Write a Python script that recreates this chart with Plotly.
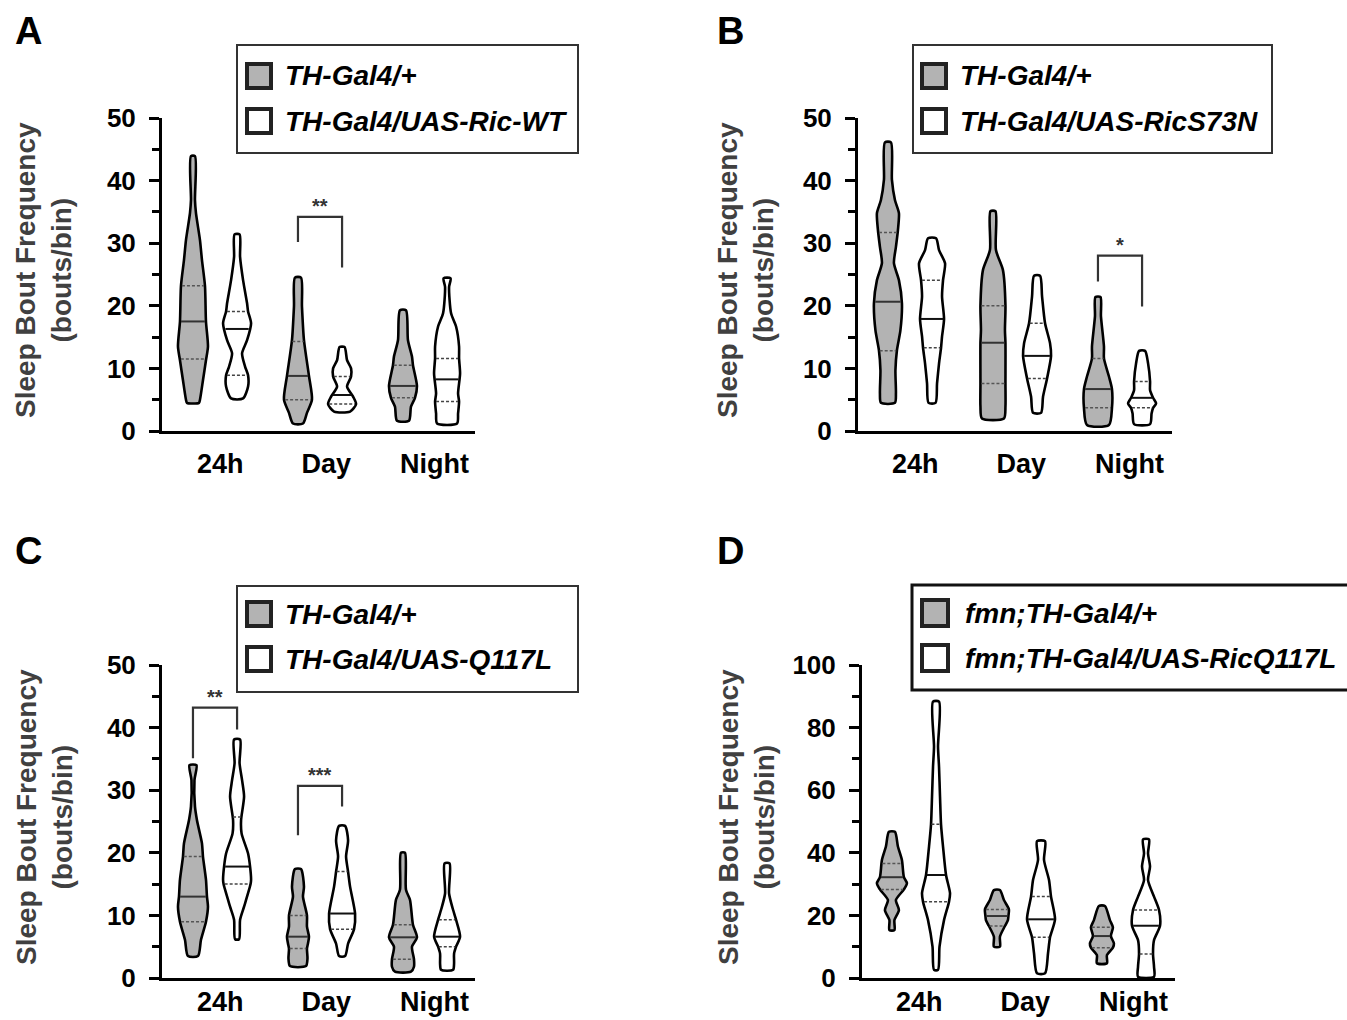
import numpy as np
import plotly.graph_objects as go

W, H = 1347, 1020
GROUPS = ["24h", "Day", "Night"]

# ---------------- data: violin density profiles (y level, relative width) ----------------
# Panel A
A_24g_y = [4.5, 5.0, 8.1, 11.3, 13.5, 17.5, 23.2, 27.3, 30.5, 34.8, 36.9, 43.9]
A_24g_d = [6, 7, 10, 13, 15, 13, 12, 9, 7, 3, 2, 2]
A_24w_y = [5.2, 7.1, 8.9, 10.3, 12.4, 14.5, 17.2, 19.1, 20.4, 24.1, 27.8, 31.4]
A_24w_d = [6, 11, 11, 8, 5, 10, 14, 11, 10, 6, 3, 2.5]
A_dg_y = [1.2, 2.9, 5.0, 8.8, 14.5, 19.9, 24.5]
A_dg_d = [5, 9, 14, 11, 6, 4, 3]
A_dw_y = [3.1, 4.3, 5.5, 7.1, 8.7, 10.0, 11.3, 13.4]
A_dw_d = [8, 14, 11, 5, 9, 9, 5, 2.5]
A_ng_y = [1.65, 3.9, 5.3, 7.2, 10.5, 11.9, 14.5, 19.3]
A_ng_d = [6, 8, 12, 14, 10, 9, 5, 3]
A_nw_y = [1.2, 2.8, 4.7, 6.0, 9.2, 11.6, 13.5, 16.7, 18.8, 23.0, 24.4]
A_nw_d = [10, 11, 12, 11, 13, 12, 12, 9, 4, 2, 3.5]
A_q1 = [11.5, 8.9, 5.0, 4.3, 5.3, 4.7]
A_med = [17.5, 16.3, 8.8, 5.75, 7.2, 8.25]
A_q3 = [23.2, 19.1, 14.3, 8.7, 10.5, 11.6]

# Panel B
B_24g_y = [4.5, 6.0, 9.7, 12.9, 16.1, 20.4, 24.1, 26.8, 29.4, 32.1, 34.8, 36.9, 40.1, 46.1]
B_24g_d = [7, 8, 7.5, 9, 12.5, 14, 11, 6, 8, 10, 11, 7, 4, 3]
B_24w_y = [4.5, 7.6, 10.8, 13.3, 15.1, 17.9, 21.5, 24.1, 26.8, 28.9, 30.8]
B_24w_d = [3.5, 5, 7, 9, 10, 12, 10, 11, 13, 7, 4]
B_dg_y = [2.0, 3.9, 7.6, 14.1, 16.1, 20.0, 25.7, 28.9, 35.1]
B_dg_d = [11, 12.5, 12.5, 12.5, 12, 12.5, 10, 3, 2.5]
B_dw_y = [2.9, 5.5, 8.4, 12.0, 14.0, 17.2, 21.5, 24.8]
B_dw_d = [4, 6, 10, 14, 13, 8, 5, 3]
B_ng_y = [0.96, 3.7, 6.7, 8.7, 11.6, 13.5, 18.3, 21.4]
B_ng_d = [11, 14, 14, 11, 6, 6, 3, 2.5]
B_nw_y = [1.1, 2.8, 3.7, 4.4, 5.3, 6.5, 7.9, 10.8, 12.8]
B_nw_d = [8, 9.5, 11, 14, 11, 8, 8, 6, 3]
B_q1 = [12.8, 13.3, 7.6, 8.4, 3.7, 3.7]
B_med = [20.65, 17.9, 14.1, 12.0, 6.7, 5.3]
B_q3 = [31.7, 24.1, 20.0, 17.2, 11.6, 7.9]

# Panel C
C_24g_y = [3.5, 6.1, 9.0, 11.4, 13.0, 15.7, 19.4, 21.5, 25.2, 27.4, 31.6, 34.0]
C_24g_d = [5, 8, 13, 15, 14, 13, 10, 9, 4, 2, 1.5, 3.5]
C_24w_y = [6.2, 9.3, 11.4, 15.0, 15.7, 17.8, 19.9, 23.1, 25.2, 29.0, 31.6, 34.3, 38.1]
C_24w_d = [2, 3, 7, 13.5, 14, 13, 11, 4.5, 4, 7, 5, 2.5, 3]
C_dg_y = [1.9, 3.1, 4.7, 5.5, 6.6, 8.2, 10.0, 13.0, 14.6, 17.4]
C_dg_d = [8, 9.5, 9, 10, 11, 9, 9, 5, 6, 3]
C_dw_y = [3.5, 5.5, 7.8, 10.3, 14.6, 17.0, 19.4, 22.0, 24.3]
C_dw_d = [3, 6, 12, 13, 8, 6, 4, 6, 3]
C_ng_y = [1.0, 1.8, 3.0, 5.0, 6.5, 8.5, 12.5, 14.1, 20.0]
C_ng_d = [8, 11, 11, 9, 14, 10, 7, 3, 2]
C_nw_y = [1.3, 2.3, 3.9, 5.0, 6.6, 9.3, 10.9, 13.5, 18.3]
C_nw_d = [6, 7, 7, 9, 13, 9, 6, 2, 2.5]
C_q1 = [9.0, 15.0, 4.7, 7.8, 3.0, 5.0]
C_med = [13.0, 17.8, 6.6, 10.3, 6.5, 6.6]
C_q3 = [19.4, 25.7, 10.0, 17.0, 8.5, 9.3]

# Panel D
D_24g_y = [15.3, 18.5, 21.7, 24.9, 28.3, 30.3, 32.2, 37.7, 42.0, 46.7]
D_24g_d = [2.5, 2.5, 7, 4, 12, 15, 12, 10, 6, 3]
D_24w_y = [2.6, 10.0, 18.5, 24.4, 27.1, 32.9, 42.0, 49.1, 57.9, 67.5, 73.9, 88.3]
D_24w_d = [2, 3.5, 8, 13, 14, 10, 7, 5, 4, 3, 2, 3]
D_dg_y = [10.0, 13.2, 16.6, 18.5, 19.8, 21.9, 24.9, 28.1]
D_dg_d = [3, 3, 8, 11, 11.5, 12, 7, 3]
D_dw_y = [1.5, 7.9, 13.0, 18.75, 26.0, 31.3, 37.7, 43.7]
D_dw_d = [4, 7, 9, 14, 10, 8, 3, 4]
D_ng_y = [4.7, 7.3, 9.7, 11.1, 13.4, 16.2, 18.5, 23.0]
D_ng_d = [5, 5, 11, 12, 9, 11, 8, 3]
D_nw_y = [0.4, 3.6, 7.7, 12.1, 16.7, 21.7, 26.0, 31.3, 35.6, 39.8, 44.3]
D_nw_d = [8, 8, 7, 8, 14, 13, 8, 2, 4, 2, 3]
D_q1 = [28.3, 24.4, 16.6, 13.0, 9.7, 7.7]
D_med = [32.2, 32.9, 19.8, 18.75, 13.4, 16.7]
D_q3 = [36.6, 49.1, 21.9, 26.0, 16.2, 21.7]

# significance brackets: (group, left-foot y, top y, right-foot y, label)
A_sig = [(1, 30.2, 34.2, 26.1, "**")]
B_sig = [(2, 23.9, 28.0, 19.9, "*")]
C_sig = [(0, 35.1, 43.2, 39.7, "**"), (1, 22.8, 30.7, 27.4, "***")]
D_sig = []

A_legend = ["TH-Gal4/+", "TH-Gal4/UAS-Ric-WT"]
B_legend = ["TH-Gal4/+", "TH-Gal4/UAS-RicS73N"]
C_legend = ["TH-Gal4/+", "TH-Gal4/UAS-Q117L"]
D_legend = ["fmn;TH-Gal4/+", "fmn;TH-Gal4/UAS-RicQ117L"]

# ---------------- styling / layout ----------------
GRAY = "#b3b3b3"
FONT = "Liberation Sans, Arial, sans-serif"
WSCALE = 1 / 105.0   # density -> x units
OFF = 0.21

def fx(p):
    return p / W

def fy(p):
    return 1 - p / H

panels = [
    dict(letter="A", xa="x", ya="y", xdom=(162, 475), ydom=(118, 431), xr=(-0.505, 2.476), yr=(0, 50),
         dt=10, mdt=5, xso=7,
         prof=[(A_24g_y, A_24g_d), (A_24w_y, A_24w_d), (A_dg_y, A_dg_d), (A_dw_y, A_dw_d), (A_ng_y, A_ng_d), (A_nw_y, A_nw_d)],
         q1=A_q1, med=A_med, q3=A_q3, sig=A_sig, leg=A_legend,
         letpos=(28, 31), title_pos=(44, 270),
         lbox=(237, 578, 45, 153, 2, "#333"), sq=(247, 24), txt_x=283, rows=(76, 121)),
    dict(letter="B", xa="x2", ya="y2", xdom=(858, 1172), ydom=(118, 431), xr=(-0.495, 2.495), yr=(0, 50),
         dt=10, mdt=5, xso=7,
         prof=[(B_24g_y, B_24g_d), (B_24w_y, B_24w_d), (B_dg_y, B_dg_d), (B_dw_y, B_dw_d), (B_ng_y, B_ng_d), (B_nw_y, B_nw_d)],
         q1=B_q1, med=B_med, q3=B_q3, sig=B_sig, leg=B_legend,
         letpos=(730, 31), title_pos=(746, 270),
         lbox=(913, 1272, 45, 153, 2, "#333"), sq=(922, 24), txt_x=958, rows=(76, 121)),
    dict(letter="C", xa="x3", ya="y3", xdom=(162, 475), ydom=(665, 978), xr=(-0.505, 2.476), yr=(0, 50),
         dt=10, mdt=5, xso=-2,
         prof=[(C_24g_y, C_24g_d), (C_24w_y, C_24w_d), (C_dg_y, C_dg_d), (C_dw_y, C_dw_d), (C_ng_y, C_ng_d), (C_nw_y, C_nw_d)],
         q1=C_q1, med=C_med, q3=C_q3, sig=C_sig, leg=C_legend,
         letpos=(28, 551), title_pos=(44, 817),
         lbox=(237, 578, 586, 692, 2, "#333"), sq=(247, 24), txt_x=283, rows=(614, 659)),
    dict(letter="D", xa="x4", ya="y4", xdom=(862, 1175), ydom=(665, 978), xr=(-0.495, 2.486), yr=(0, 100),
         dt=20, mdt=10, xso=-2,
         prof=[(D_24g_y, D_24g_d), (D_24w_y, D_24w_d), (D_dg_y, D_dg_d), (D_dw_y, D_dw_d), (D_ng_y, D_ng_d), (D_nw_y, D_nw_d)],
         q1=D_q1, med=D_med, q3=D_q3, sig=D_sig, leg=D_legend,
         letpos=(730, 551), title_pos=(746, 817),
         lbox=(912, 1360, 585, 690, 3, "#111"), sq=(922, 26), txt_x=963, rows=(613, 658)),
]

fig = go.Figure()
shapes = []
annotations = []
layout_axes = {}

for p in panels:
    xa, ya = p["xa"], p["ya"]
    for i, (yy, dd) in enumerate(p["prof"]):
        g = i // 2
        white = i % 2 == 1
        c = g + (OFF if white else -OFF)
        yv = np.array(yy, dtype=float)
        dv = np.array(dd, dtype=float) * WSCALE
        xs = np.concatenate([c + dv, (c - dv)[::-1], [c + dv[0]]])
        ys = np.concatenate([yv, yv[::-1], [yv[0]]])
        fig.add_trace(go.Scatter(
            x=xs, y=ys, mode="lines", fill="toself",
            fillcolor="white" if white else GRAY,
            line=dict(color="black", width=2.6, shape="spline", smoothing=0.7),
            xaxis=xa, yaxis=ya, hoverinfo="skip"))
        # quartile and median lines
        for val, kind in ((p["q1"][i], "q"), (p["q3"][i], "q"), (p["med"][i], "m")):
            hw = np.interp(val, yv, dv) * 0.92
            if kind == "m":
                ln = dict(color="#111" if white else "#333", width=2)
            else:
                ln = dict(color="#444" if white else "#555", width=1.5, dash="3px,2px")
            fig.add_trace(go.Scatter(x=[c - hw, c + hw], y=[val, val], mode="lines",
                                     line=ln, xaxis=xa, yaxis=ya, hoverinfo="skip"))
    # significance brackets
    for (g, yl, yt, yr_, lab) in p["sig"]:
        fig.add_trace(go.Scatter(x=[g - OFF, g - OFF, g + OFF, g + OFF], y=[yl, yt, yt, yr_],
                                 mode="lines", line=dict(color="#333", width=2.2),
                                 xaxis=xa, yaxis=ya, hoverinfo="skip"))
        annotations.append(dict(x=g, y=yt, xref=xa, yref=ya, text="<b>%s</b>" % lab, showarrow=False,
                                yanchor="bottom", yshift=-2, font=dict(family=FONT, size=20, color="#333")))

    # axes
    xkey = "xaxis" + xa[1:]
    ykey = "yaxis" + ya[1:]
    layout_axes[xkey] = dict(
        domain=[fx(p["xdom"][0]), fx(p["xdom"][1])], range=list(p["xr"]), anchor=ya,
        showline=True, linewidth=3, linecolor="black", ticks="", showgrid=False, zeroline=False,
        tickvals=[0.05, 1.06, 2.09], ticktext=GROUPS, ticklabelstandoff=p["xso"], automargin=False,
        tickfont=dict(family=FONT, size=27, color="black", weight="bold"))
    layout_axes[ykey] = dict(
        domain=[fy(p["ydom"][1]), fy(p["ydom"][0])], range=list(p["yr"]), anchor=xa,
        showline=True, linewidth=3, linecolor="black", ticks="outside", ticklen=10, tickwidth=3,
        tickcolor="black", dtick=p["dt"], tick0=0, showgrid=False, zeroline=False, automargin=False,
        minor=dict(dtick=p["mdt"], ticks="outside", ticklen=7, tickwidth=3, tickcolor="black", showgrid=False),
        ticklabelstandoff=8,
        tickfont=dict(family=FONT, size=26, color="black", weight="bold"))

    # panel letter
    annotations.append(dict(x=fx(p["letpos"][0]), y=fy(p["letpos"][1]), xref="paper", yref="paper",
                            text="<b>%s</b>" % p["letter"], showarrow=False, xanchor="center", yanchor="middle",
                            font=dict(family=FONT, size=38, color="black")))
    # y title
    annotations.append(dict(x=fx(p["title_pos"][0]), y=fy(p["title_pos"][1]), xref="paper", yref="paper",
                            text="<b>Sleep Bout Frequency<br>(bouts/bin)</b>", showarrow=False, textangle=-90,
                            xanchor="center", yanchor="middle",
                            font=dict(family=FONT, size=28, color="#404040")))
    # legend box
    x0, x1, y0, y1, lw, lc = p["lbox"]
    shapes.append(dict(type="rect", xref="paper", yref="paper", x0=fx(x0), x1=fx(x1), y0=fy(y1), y1=fy(y0),
                       line=dict(color=lc, width=lw), fillcolor="rgba(0,0,0,0)"))
    sx, ss = p["sq"]
    for k, row in enumerate(p["rows"]):
        shapes.append(dict(type="rect", xref="paper", yref="paper",
                           x0=fx(sx), x1=fx(sx + ss), y0=fy(row + ss / 2), y1=fy(row - ss / 2),
                           line=dict(color="#222", width=4), fillcolor=GRAY if k == 0 else "white"))
        annotations.append(dict(x=fx(p["txt_x"]), y=fy(row), xref="paper", yref="paper",
                                text="<b><i>%s</i></b>" % p["leg"][k], showarrow=False,
                                xanchor="left", yanchor="middle",
                                font=dict(family=FONT, size=28, color="black")))

fig.update_layout(
    width=W, height=H, autosize=False,
    margin=dict(l=0, r=0, t=0, b=0, pad=0, autoexpand=False),
    paper_bgcolor="white", plot_bgcolor="white", showlegend=False,
    shapes=shapes, annotations=annotations, **layout_axes)

# make the page exactly the figure's size (no body margin, no stray line boxes)
POST = ("var s=document.createElement('style');"
        "s.textContent='html,body{margin:0;padding:0;overflow:hidden;font-size:0;line-height:0;}';"
        "document.head.appendChild(s);"
        "var gd=document.getElementById('{plot_id}');"
        "gd.style.position='absolute';gd.style.left='0px';gd.style.top='0px';")
fig.write_html("out.html", post_script=POST, config={"displayModeBar": False})
